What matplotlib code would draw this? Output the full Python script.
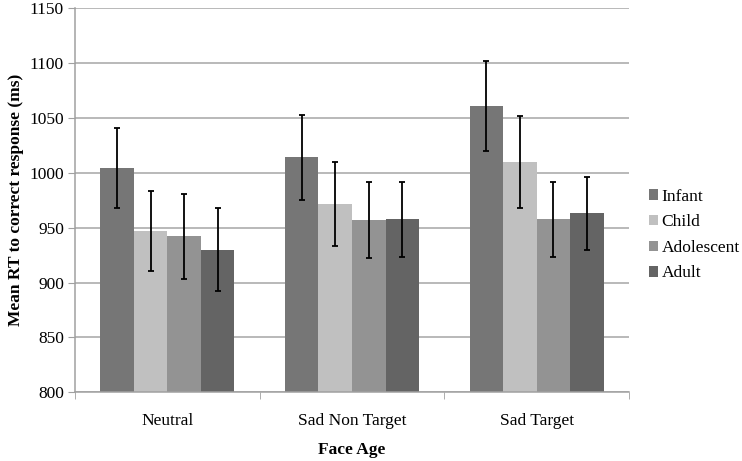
import numpy as np
import matplotlib.pyplot as plt

conditions = ["Neutral", "Sad Non Target", "Sad Target"]
groups = ["Infant", "Child", "Adolescent", "Adult"]

# Mittelwerte je Gesichtsalter (Zeilen = Bedingungen)
infant = [1004, 1014, 1061]
child = [947, 971.5, 1010]
adolescent = [942, 957, 957.5]
adult = [930, 957.5, 963]

# Fehlerbalken (+/-)
infant_err = [36.5, 39, 41]
child_err = [36.5, 38, 42]
adolescent_err = [38.5, 34.5, 34]
adult_err = [37.5, 34, 33.5]

colors = ["#767676", "#c0c0c0", "#939393", "#646464"]

plt.rcParams['font.family'] = ['Liberation Serif', 'DejaVu Serif']

fig = plt.figure(figsize=(7.42, 4.61), dpi=100)
ax = fig.add_axes([0.1011, 0.149, 0.7466, 0.8336])

x = np.arange(len(conditions))
bw = 1 / 5.5
values = [infant, child, adolescent, adult]
errs = [infant_err, child_err, adolescent_err, adult_err]
for i in range(4):
    pos = x + (i - 1.5) * bw
    ax.bar(pos, values[i], bw, color=colors[i], label=groups[i], zorder=2)
    ax.errorbar(pos, values[i], yerr=errs[i], fmt='none', ecolor='black',
                elinewidth=1.3, capsize=2.5, capthick=1.3, zorder=3)

ax.set_ylim(800, 1150)
ax.set_yticks(np.arange(800, 1151, 50))
ax.set_xlim(-0.5, 2.5)
ax.set_xticks(x)
ax.set_xticklabels(conditions, fontsize=12.5)
ax.set_xticks([-0.5, 0.5, 1.5, 2.5], minor=True)
ax.tick_params(axis='x', which='major', length=0, pad=15)
ax.tick_params(axis='x', which='minor', length=5, color='#a0a0a0', direction='out')
ax.tick_params(axis='y', labelsize=12.5, length=5, color='#a0a0a0', pad=3)
ax.yaxis.grid(True, color='#a6a6a6', linewidth=1.1, zorder=0)
ax.set_axisbelow(True)

for s in ['top', 'right']:
    ax.spines[s].set_visible(False)
for s in ['left', 'bottom']:
    ax.spines[s].set_color('#a0a0a0')
    ax.spines[s].set_linewidth(1.1)

ax.set_xlabel("Face Age", fontsize=12.5, fontweight='bold', labelpad=9)
ax.set_ylabel("Mean RT to correct response (ms)", fontsize=12.5, fontweight='bold', labelpad=4)

fig.legend(loc='center left', bbox_to_anchor=(0.853, 0.49), frameon=False,
           fontsize=12.5, handlelength=0.55, handleheight=0.55, handletextpad=0.2,
           labelspacing=0.55)

plt.savefig("out.png", dpi=100)
